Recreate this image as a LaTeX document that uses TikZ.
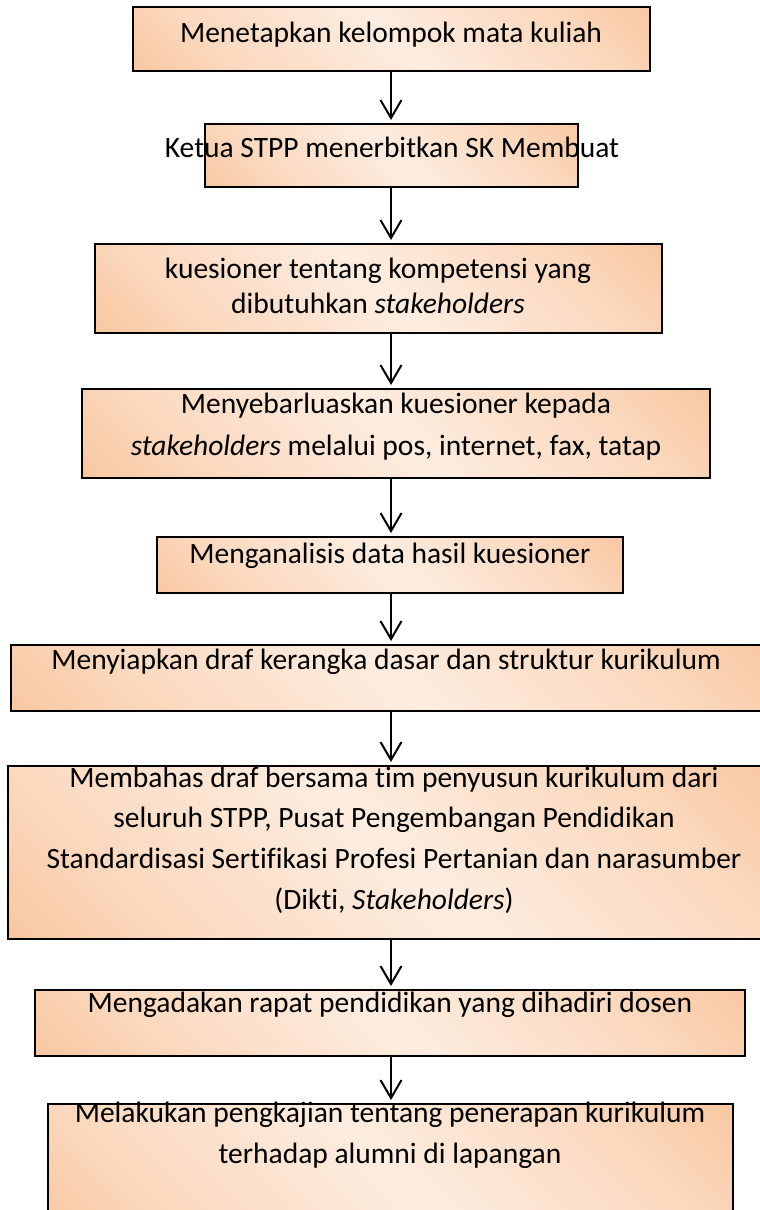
\documentclass[tikz,border=0pt]{standalone}
\usepackage{fontspec}
\setmainfont{Carlito}[Ligatures={NoCommon}]
\usetikzlibrary{arrows.meta,fit}
\definecolor{orgA}{HTML}{F7B480}
\definecolor{lightA}{HTML}{FBD9BF}
\definecolor{lightB}{HTML}{FDEDE0}
\pgfdeclareverticalshading{peach}{100bp}{color(0bp)=(orgA); color(28bp)=(lightA); color(50bp)=(lightB); color(72bp)=(lightA); color(100bp)=(orgA)}
\tikzset{
  box/.style={draw=black, line width=2pt, shading=peach, shading angle=-45, inner sep=0pt, rectangle},
  txt/.style={font=\fontsize{29.5}{34}\selectfont, text=black, inner sep=0pt, anchor=base},
  arr/.style={line width=2pt, -{Straight Barb[length=18pt,width=21pt,line width=2pt]}, shorten >=3pt}
}
\begin{document}
\begin{tikzpicture}[x=1pt,y=-1pt]
\useasboundingbox (0,0) rectangle (760,1210);
% boxes
\node[box, fit={(133,7) (650,71)}] (b1) {};
\node[box, fit={(205,124) (578,187)}] (b2) {};
\node[box, fit={(95,244) (662,333)}] (b3) {};
\node[box, fit={(82,389) (710,478)}] (b4) {};
\node[box, fit={(157,537) (623,593)}] (b5) {};
\node[box, fit={(11,645) (775,711)}] (b6) {};
\node[box, fit={(8,766) (775,939)}] (b7) {};
\node[box, fit={(35,990) (745,1056)}] (b8) {};
\node[box, fit={(48,1104) (733,1240)}] (b9) {};
% texts
\node[txt] (t1) at (391,42) {Menetapkan kelompok mata kuliah};
\node[txt] (t2) at (392,157) {Ketua STPP menerbitkan SK Membuat};
\node[txt] (t3a) at (378,278) {kuesioner tentang kompetensi yang};
\node[txt] (t3b) at (378,313) {dibutuhkan \textit{stakeholders}};
\node[txt] (t4a) at (396,413) {Menyebarluaskan kuesioner kepada};
\node[txt] (t4b) at (396,455) {\textit{stakeholders} melalui pos, internet, fax, tatap};
\node[txt] (t5) at (390,563) {Menganalisis data hasil kuesioner};
\node[txt] (t6) at (386,669) {Menyiapkan draf kerangka dasar dan struktur kurikulum};
\node[txt] (t7a) at (394,787) {Membahas draf bersama tim penyusun kurikulum dari};
\node[txt] (t7b) at (394,827) {seluruh STPP, Pusat Pengembangan Pendidikan};
\node[txt] (t7c) at (394,868) {Standardisasi Sertifikasi Profesi Pertanian dan narasumber};
\node[txt] (t7d) at (394,909) {(Dikti, \textit{Stakeholders})};
\node[txt] (t8) at (390,1012) {Mengadakan rapat pendidikan yang dihadiri dosen};
\node[txt] (t9a) at (390,1122) {Melakukan pengkajian tentang penerapan kurikulum};
\node[txt] (t9b) at (390,1163) {terhadap alumni di lapangan};
% arrows
\coordinate (ax) at (391,0);
\draw[arr] (b1.south -| ax) -- (b2.north -| ax);
\draw[arr] (b2.south -| ax) -- (b3.north -| ax);
\draw[arr] (b3.south -| ax) -- (b4.north -| ax);
\draw[arr] (b4.south -| ax) -- (b5.north -| ax);
\draw[arr] (b5.south -| ax) -- (b6.north -| ax);
\draw[arr] (b6.south -| ax) -- (b7.north -| ax);
\draw[arr] (b7.south -| ax) -- (b8.north -| ax);
\draw[arr] (b8.south -| ax) -- (b9.north -| ax);
\end{tikzpicture}
\end{document}
